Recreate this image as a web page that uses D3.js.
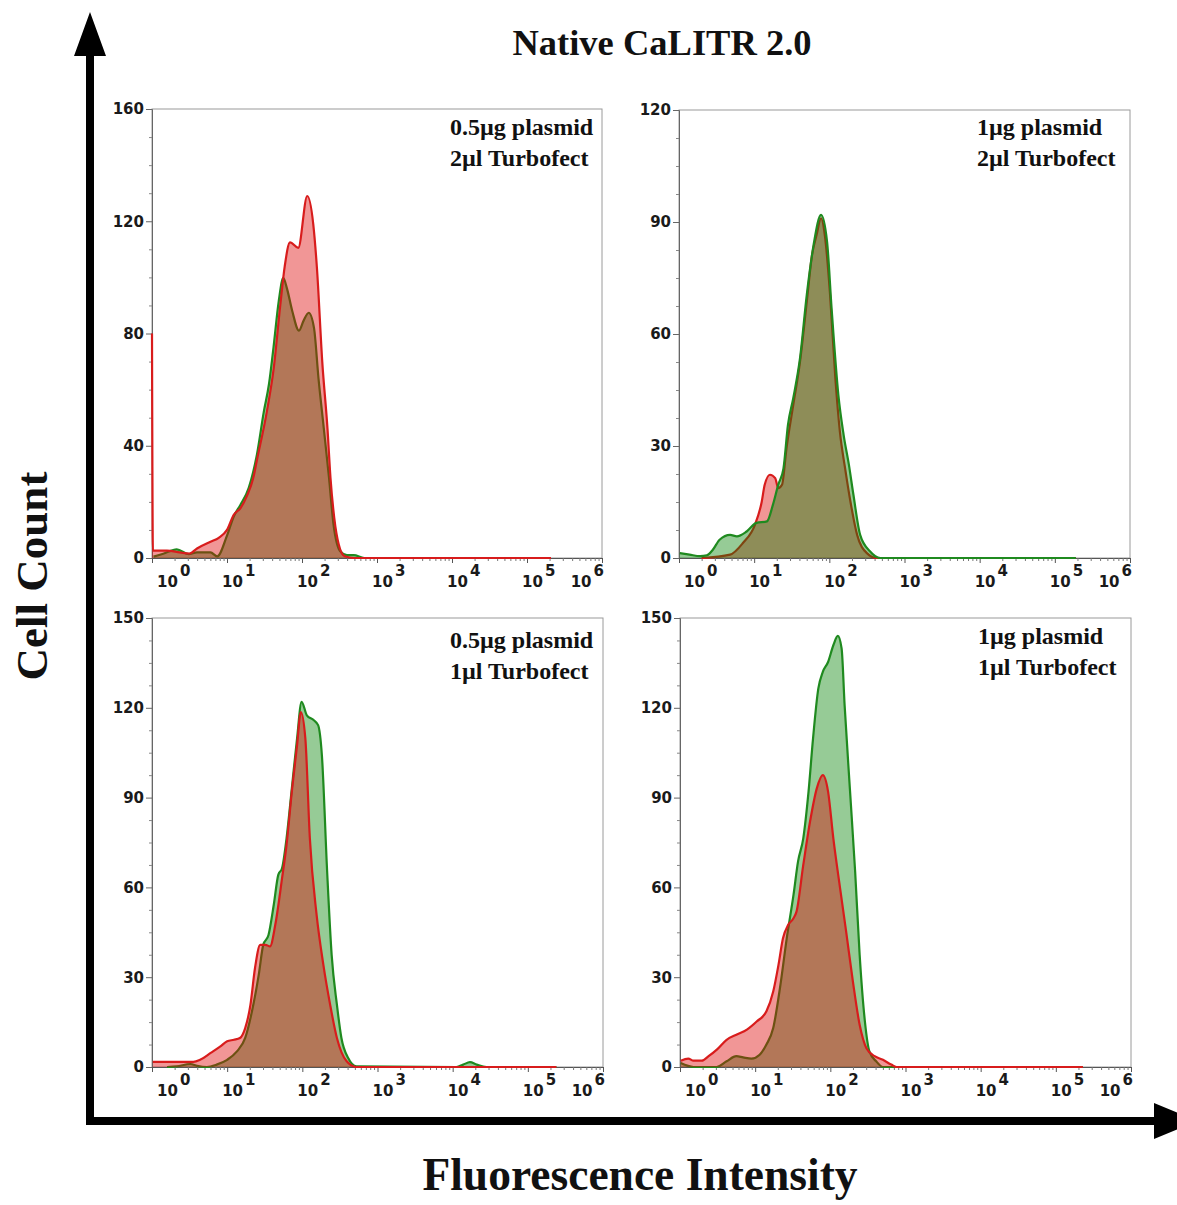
<!DOCTYPE html>
<html><head><meta charset="utf-8">
<script src="https://cdn.jsdelivr.net/npm/d3@7"></script>
<style>body{margin:0;background:#fff}svg{display:block}</style>
</head><body>
<svg id="chart" width="1177" height="1205"></svg>
<script>
// ---------------- DATA ----------------
const chartTitle = "Native CaLITR 2.0";
const yAxisTitle = "Cell Count";
const xAxisTitle = "Fluorescence Intensity";
const panelLine1 = ["0.5µg plasmid", "1µg plasmid", "0.5µg plasmid", "1µg plasmid"];
const panelLine2 = ["2µl Turbofect", "2µl Turbofect", "1µl Turbofect", "1µl Turbofect"];
const yMax = [160, 120, 150, 150];
const yTickValues = [[0, 40, 80, 120, 160], [0, 30, 60, 90, 120], [0, 30, 60, 90, 120, 150], [0, 30, 60, 90, 120, 150]];
const xDecades = [0, 1, 2, 3, 4, 5, 6];          // tick labels 10^n
const redOnTop = [true, false, true, true];

// series points: [log10(fluorescence intensity), cell count]
const redTL = [[0,80],[0.012,2.6],[0.2,2.6],[0.37,2],[0.5,1.6],[0.6,3.4],[0.78,5.8],[0.89,7.2],[1.0,10],[1.09,15.4],[1.18,17.8],[1.27,22.4],[1.35,28.5],[1.4,35],[1.53,52],[1.62,67],[1.71,90],[1.77,104],[1.84,112.5],[1.95,110.5],[2.07,129],[2.15,119],[2.2,103],[2.27,70],[2.34,46],[2.38,28.5],[2.43,14.3],[2.49,4.8],[2.57,0.6],[2.7,0],[5.32,0]];
const greenTL = [[0.02,0.5],[0.15,1.5],[0.33,3.1],[0.49,1.4],[0.6,2],[0.78,2],[0.87,0.6],[1.0,8],[1.09,14.8],[1.18,19],[1.29,25],[1.4,37],[1.49,52],[1.56,62],[1.62,75],[1.69,91.5],[1.75,99.8],[1.8,96],[1.87,88],[1.96,81],[2.02,84.5],[2.09,87.4],[2.16,82],[2.22,64],[2.29,46.4],[2.36,28.6],[2.42,12],[2.51,2.4],[2.6,1],[2.69,1],[2.83,0],[5.3,0]];

const redTR = [[0.3,0],[0.68,0.9],[0.85,4],[1.01,8.9],[1.1,15],[1.14,19.6],[1.21,22.3],[1.28,21.4],[1.32,18.7],[1.37,19.6],[1.43,29.4],[1.52,41],[1.61,52.6],[1.7,68.7],[1.77,81.2],[1.83,86.5],[1.89,91],[1.94,86.5],[2.01,70.5],[2.08,48.2],[2.14,33.9],[2.21,24],[2.28,15.2],[2.37,6.2],[2.5,1.3],[2.63,0],[5.28,0]];
const greenTR = [[0.01,1.3],[0.14,0.9],[0.28,0.5],[0.37,0.7],[0.45,2.2],[0.54,4.9],[0.68,6.2],[0.77,5.8],[0.9,7.1],[1.03,9.4],[1.17,9.8],[1.25,14.3],[1.32,19.6],[1.39,24],[1.45,35.7],[1.52,42.8],[1.61,53.5],[1.7,70.5],[1.79,83.8],[1.89,91.9],[1.97,84.7],[2.03,66.9],[2.12,43.7],[2.19,33],[2.26,25],[2.32,17],[2.41,6.2],[2.54,1.8],[2.68,0],[5.28,0]];

const redBL = [[0.01,1.7],[0.55,1.7],[0.64,2.4],[0.78,4.7],[0.91,6.9],[1.0,8.6],[1.09,9.1],[1.17,9.7],[1.24,13],[1.31,20.8],[1.37,33],[1.44,40.8],[1.51,40.8],[1.57,40.3],[1.64,47.5],[1.73,63],[1.79,74.2],[1.86,92],[1.93,107.5],[1.98,118.6],[2.04,109.8],[2.1,76.4],[2.19,50.8],[2.28,34.1],[2.37,20.8],[2.46,9.7],[2.59,1.9],[2.72,0],[5.38,0]];
const greenBL = [[0.2,0],[0.33,0.2],[0.51,1],[0.6,0.4],[0.73,0],[0.86,0.8],[1.0,2.4],[1.13,5.2],[1.24,9.7],[1.33,18.6],[1.42,30.8],[1.48,40.8],[1.55,44.1],[1.62,54.2],[1.68,64.2],[1.73,66.4],[1.79,76.4],[1.86,93],[1.93,109.8],[1.99,122],[2.06,117.5],[2.15,115.9],[2.21,114.2],[2.26,104.2],[2.33,65.3],[2.39,37.5],[2.46,20.8],[2.52,9.7],[2.61,3],[2.72,0.2],[4.05,0],[4.14,0.8],[4.23,1.6],[4.32,0.8],[4.45,0],[5.38,0]];

const redBR = [[0.01,2.1],[0.11,2.8],[0.18,2.1],[0.29,2.1],[0.38,3.6],[0.49,5.8],[0.62,9.1],[0.75,10.8],[0.89,12.5],[1.02,15.2],[1.15,18.6],[1.24,25.2],[1.31,34.1],[1.37,43],[1.44,47.5],[1.51,49.7],[1.55,51.9],[1.64,67.5],[1.73,82],[1.82,93.1],[1.9,97.5],[1.97,92],[2.04,76.4],[2.13,59.7],[2.21,45.3],[2.3,28.6],[2.39,14.1],[2.48,6.3],[2.59,3.6],[2.7,2.4],[2.81,0.8],[2.88,0],[5.36,0]];
const greenBR = [[0.01,1.3],[0.18,0],[0.49,0],[0.62,1.9],[0.75,3.6],[0.84,3.2],[0.95,2.8],[1.06,4.1],[1.15,7.5],[1.24,13],[1.33,26.4],[1.42,43],[1.51,57.5],[1.57,68.6],[1.64,76.4],[1.71,92],[1.77,109.8],[1.84,126.4],[1.9,132],[1.97,135.3],[2.04,140.9],[2.1,144],[2.15,139.8],[2.19,120.9],[2.26,93],[2.33,65.3],[2.39,37.5],[2.46,15.2],[2.52,5.2],[2.61,1.9],[2.7,0],[5.36,0]];

const redSeries = [redTL, redTR, redBL, redBR];
const greenSeries = [greenTL, greenTR, greenBL, greenBR];

// ---------------- LAYOUT ----------------
const panels = [
  {x0: 152, x1: 602, y0: 109, y1: 558, lab: 135},
  {x0: 679, x1: 1130, y0: 110, y1: 558, lab: 135},
  {x0: 152, x1: 603, y0: 618, y1: 1067, lab: 648},
  {x0: 680, x1: 1131, y0: 618, y1: 1067, lab: 644}
];
const RED = "#d81c1c", GREEN = "#1f8a1f";
const RED_FILL = "rgba(220,0,0,0.41)", GREEN_FILL = "rgba(0,128,0,0.41)";
const TICK_FONT = "DejaVu Sans, sans-serif";

const svg = d3.select("#chart");
svg.append("rect").attr("width", 1177).attr("height", 1205).attr("fill", "#fff");

panels.forEach((p, i) => {
  const x = d3.scaleLog().domain([1, 1e6]).range([p.x0, p.x1]);
  const y = d3.scaleLinear().domain([0, yMax[i]]).range([p.y1, p.y0]);
  const g = svg.append("g");

  const cid = "clip" + i;
  svg.append("clipPath").attr("id", cid).append("rect")
    .attr("x", p.x0 - 2).attr("y", p.y0 - 2).attr("width", p.x1 - p.x0 + 2).attr("height", p.y1 - p.y0 + 3);

  // frame
  g.append("rect").attr("x", p.x0).attr("y", p.y0).attr("width", p.x1 - p.x0).attr("height", p.y1 - p.y0)
    .attr("fill", "none").attr("stroke", "#9a9a9a").attr("stroke-width", 1);

  // y axis (major)
  const yAx = g.append("g").attr("transform", `translate(${p.x0},0)`)
    .call(d3.axisLeft(y).tickValues(yTickValues[i]).tickSize(6).tickPadding(2));
  yAx.select(".domain").attr("stroke", "#666");
  yAx.selectAll(".tick line").attr("stroke", "#666");
  yAx.selectAll(".tick text").attr("font-family", TICK_FONT).attr("font-weight", "bold")
    .attr("font-size", 15).attr("fill", "#1a1a1a");
  // y minor ticks
  const step = yTickValues[i][1] / 4;
  const minor = d3.range(0, yMax[i] + 0.01, step).filter(v => !yTickValues[i].includes(v));
  g.append("g").attr("transform", `translate(${p.x0},0)`)
    .call(d3.axisLeft(y).tickValues(minor).tickSize(3).tickFormat(""))
    .call(s => { s.select(".domain").remove(); s.selectAll("line").attr("stroke", "#888"); });

  // x axis
  const xAx = g.append("g").attr("transform", `translate(0,${p.y1})`)
    .call(d3.axisBottom(x).tickValues(xDecades.map(n => Math.pow(10, n))).tickSize(5).tickFormat(""));
  xAx.select(".domain").attr("stroke", "#555");
  xAx.selectAll("line").attr("stroke", "#555");
  const xMinor = [];
  xDecades.slice(0, -1).forEach(n => { for (let k = 2; k <= 9; k++) xMinor.push(k * Math.pow(10, n)); });
  g.append("g").attr("transform", `translate(0,${p.y1})`)
    .call(d3.axisBottom(x).tickValues(xMinor).tickSize(3).tickFormat(""))
    .call(s => { s.select(".domain").remove(); s.selectAll("line").attr("stroke", "#777"); });

  // x tick labels 10^n
  xDecades.forEach(n => {
    const tx = x(Math.pow(10, n));
    const t = g.append("text")
      .attr("y", p.y1 + 29)
      .attr("font-family", TICK_FONT).attr("font-weight", "bold")
      .attr("font-size", 15).attr("fill", "#1a1a1a");
    if (n === xDecades[0]) t.attr("x", tx + 5).attr("text-anchor", "start");
    else if (n === xDecades[xDecades.length - 1]) t.attr("x", tx + 2).attr("text-anchor", "end");
    else t.attr("x", tx - 5).attr("text-anchor", "start");
    t.append("tspan").text("10");
    t.append("tspan").attr("dx", 2).attr("dy", -11).text(n);
  });

  // curves (drawn over the axes, as in the original)
  const area = d3.area().x(d => x(Math.pow(10, d[0]))).y0(y(0)).y1(d => y(d[1])).curve(d3.curveMonotoneX);
  const line = d3.line().x(d => x(Math.pow(10, d[0]))).y(d => y(d[1])).curve(d3.curveMonotoneX);
  const plot = g.append("g").attr("clip-path", `url(#${cid})`);
  const order = redOnTop[i]
    ? [[greenSeries[i], GREEN_FILL, GREEN], [redSeries[i], RED_FILL, RED]]
    : [[redSeries[i], RED_FILL, RED], [greenSeries[i], GREEN_FILL, GREEN]];
  order.forEach(([data, fill, stroke]) => {
    plot.append("path").datum(data).attr("d", area).attr("fill", fill);
    plot.append("path").datum(data).attr("d", line).attr("fill", "none")
      .attr("stroke", stroke).attr("stroke-width", 2.2).attr("stroke-linejoin", "round");
  });

  // panel label
  const lt = g.append("text").attr("font-family", "Liberation Serif, Times New Roman, serif")
    .attr("font-weight", "bold").attr("font-size", 24).attr("fill", "#111");
  lt.append("tspan").attr("x", p.x0 + 298).attr("y", p.lab).text(panelLine1[i]);
  lt.append("tspan").attr("x", p.x0 + 298).attr("y", p.lab + 31).text(panelLine2[i]);
});

// titles
svg.append("text").attr("x", 662).attr("y", 55).attr("text-anchor", "middle")
  .attr("font-family", "Liberation Serif, Times New Roman, serif").attr("font-weight", "bold")
  .attr("font-size", 36.5).attr("fill", "#111").text(chartTitle);
svg.append("text").attr("transform", "translate(47,576) rotate(-90)").attr("text-anchor", "middle")
  .attr("font-family", "Liberation Serif, Times New Roman, serif").attr("font-weight", "bold")
  .attr("font-size", 45).attr("fill", "#111").text(yAxisTitle);
svg.append("text").attr("x", 640).attr("y", 1190).attr("text-anchor", "middle")
  .attr("font-family", "Liberation Serif, Times New Roman, serif").attr("font-weight", "bold")
  .attr("font-size", 45.5).attr("fill", "#111").text(xAxisTitle);

// big arrows
svg.append("path").attr("fill", "#000")
  .attr("d", "M86,1125 L86,56 L74,56 L90,12 L106,56 L94,56 L94,1117 L1154,1117 L1154,1103 L1198,1121 L1154,1139 L1154,1125 Z");
</script>
</body></html>
